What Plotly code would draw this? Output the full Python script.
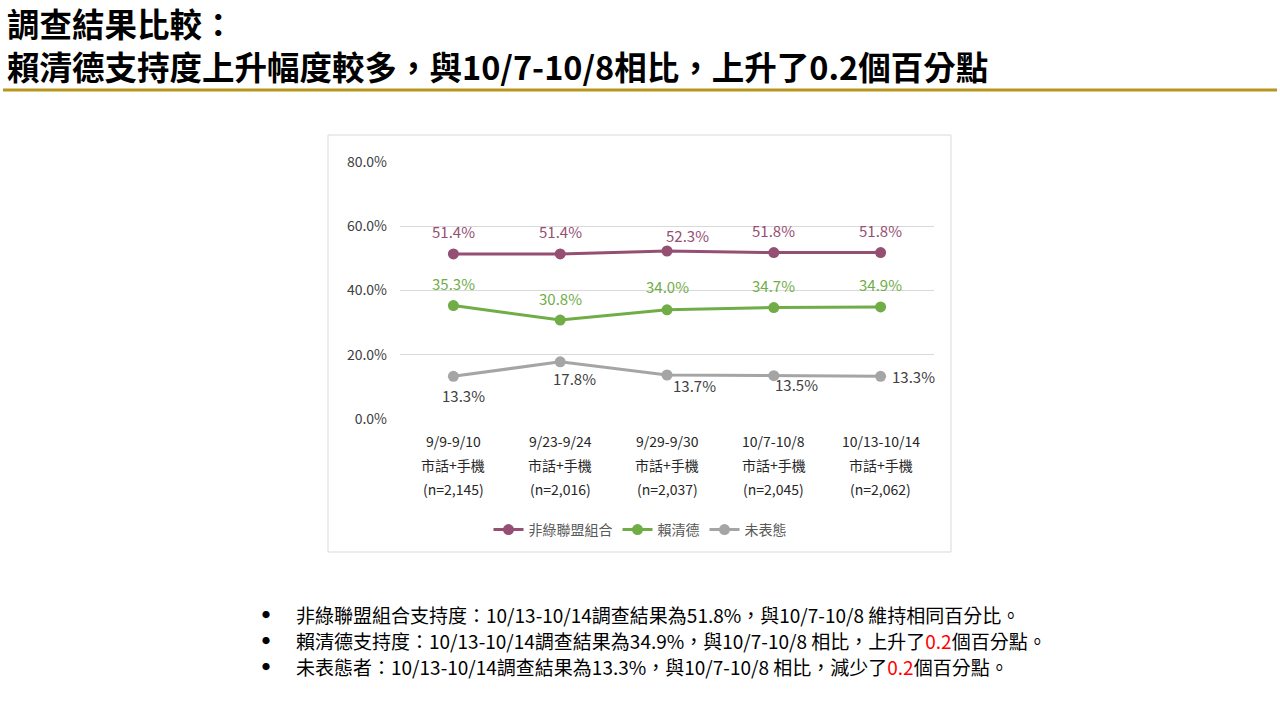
import plotly.graph_objects as go

# data
periods = ["9/9-9/10", "9/23-9/24", "9/29-9/30", "10/7-10/8", "10/13-10/14"]
method = ["市話+手機", "市話+手機", "市話+手機", "市話+手機", "市話+手機"]
samples = ["(n=2,145)", "(n=2,016)", "(n=2,037)", "(n=2,045)", "(n=2,062)"]

non_green = [51.4, 51.4, 52.3, 51.8, 51.8]
lai = [35.3, 30.8, 34.0, 34.7, 34.9]
undecided = [13.3, 17.8, 13.7, 13.5, 13.3]

series_names = ["非綠聯盟組合", "賴清德", "未表態"]
colors = ["#954F72", "#70AD47", "#A5A5A5"]
label_colors = ["#954F72", "#70AD47", "#404040"]

title_lines = ["調查結果比較：", "賴清德支持度上升幅度較多，與10/7-10/8相比，上升了0.2個百分點"]
bullets = [
    "非綠聯盟組合支持度：10/13-10/14調查結果為51.8%，與10/7-10/8 維持相同百分比。",
    "賴清德支持度：10/13-10/14調查結果為34.9%，與10/7-10/8 相比，上升了<span style='color:#FF0000'>0.2</span>個百分點。",
    "未表態者：10/13-10/14調查結果為13.3%，與10/7-10/8 相比，減少了<span style='color:#FF0000'>0.2</span>個百分點。",
]

FONT = "Noto Sans CJK TC"

# plot area in pixels
L, R, T, B = 400, 934, 162, 419


def px(x):
    return (x - L) / (R - L)


def py(y):
    return (B - y) / (B - T)


fig = go.Figure()
for name, vals, c in zip(series_names, [non_green, lai, undecided], colors):
    fig.add_trace(go.Scatter(x=periods, y=vals, name=name, mode="lines+markers",
                             line=dict(color=c, width=3),
                             marker=dict(color=c, size=11),
                             hoverinfo="skip"))

annotations = []

# data labels (offsets in px, Excel-ish placement)
offsets = [
    [(0, 22), (0, 22), (20, 15), (0, 22), (0, 22)],
    [(0, 22), (0, 22), (0, 23), (0, 22), (0, 22)],
    [(10, -19), (14, -17), (27, -11), (23, -9), (33, 0)],
]
for vals, lc, offs in zip([non_green, lai, undecided], label_colors, offsets):
    for p, v, (dx, dy) in zip(periods, vals, offs):
        annotations.append(dict(x=p, y=v, xref="x", yref="y", text=f"{v:.1f}%",
                                showarrow=False, xshift=dx, yshift=dy,
                                font=dict(family=FONT, size=15, color=lc)))

# category labels (3 lines)
for p, m, s in zip(periods, method, samples):
    for k, t in enumerate([p, m, s]):
        annotations.append(dict(x=p, xref="x", y=py(441 + 24 * k), yref="paper",
                                text=t, showarrow=False, yanchor="middle",
                                font=dict(family=FONT, size=14, color="#262626")))

# title
for k, t in enumerate(title_lines):
    annotations.append(dict(x=px(5), y=py(23 + 42 * k), xref="paper", yref="paper",
                            text="<b>" + t + "</b>", showarrow=False,
                            xanchor="left", yanchor="middle",
                            font=dict(family=FONT, size=32.5, color="#000000")))

# bullet notes
for k, t in enumerate(bullets):
    y = py(614 + 26 * k)
    annotations.append(dict(x=px(266), y=y, xref="paper", yref="paper", text="●",
                            showarrow=False, xanchor="center", yanchor="middle",
                            font=dict(family=FONT, size=8, color="#000000")))
    annotations.append(dict(x=px(294), y=y, xref="paper", yref="paper", text=t,
                            showarrow=False, xanchor="left", yanchor="middle",
                            font=dict(family=FONT, size=19, color="#000000")))

shapes = [
    dict(type="line", xref="paper", yref="paper", x0=px(3), x1=px(1277),
         y0=py(90), y1=py(90), line=dict(color="#B8961E", width=3)),
    dict(type="rect", xref="paper", yref="paper", x0=px(328), x1=px(951),
         y0=py(552), y1=py(135), line=dict(color="#D9D9D9", width=1),
         layer="below"),
]

fig.update_layout(
    width=1280, height=720,
    margin=dict(l=L, r=1280 - R, t=T, b=720 - B),
    paper_bgcolor="white", plot_bgcolor="white",
    font=dict(family=FONT, size=14, color="#595959"),
    xaxis=dict(showticklabels=False, showgrid=False, zeroline=False,
               range=[-0.5, 4.5], fixedrange=True),
    yaxis=dict(range=[0, 80], dtick=20, tickformat=".1f", ticksuffix="%",
               gridcolor="#D9D9D9", gridwidth=1, zeroline=False,
               showline=False, ticks="", ticklabelstandoff=12,
               tickfont=dict(family=FONT, size=14, color="#404040")),
    showlegend=True,
    legend=dict(orientation="h", x=px(640), y=py(530), xanchor="center",
                yanchor="middle", font=dict(family=FONT, size=14, color="#595959"),
                itemwidth=30, bgcolor="rgba(0,0,0,0)"),
    annotations=annotations,
    shapes=shapes,
)

# page has a default 8px body margin; drop it so the figure sits at 0,0
fig.write_html("out.html", config={"displayModeBar": False},
               post_script="document.body.style.margin='0';")
